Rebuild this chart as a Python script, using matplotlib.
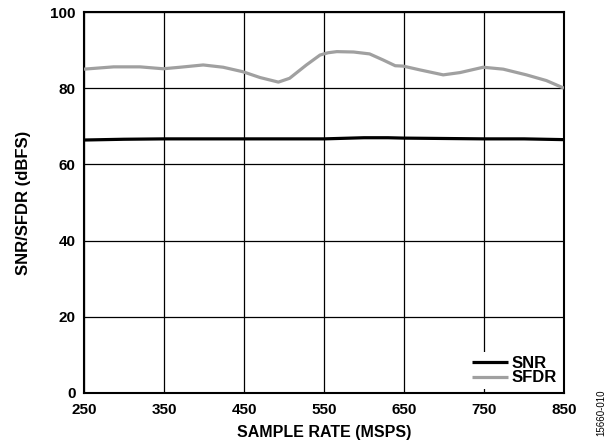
import matplotlib
matplotlib.use("Agg")
import matplotlib.pyplot as plt

plt.rcParams['font.family'] = ['Liberation Sans', 'DejaVu Sans']

snr_x = [250, 300, 350, 400, 450, 500, 550, 600, 630, 650, 700, 750, 800, 850]
snr_y = [66.4, 66.6, 66.7, 66.7, 66.7, 66.7, 66.7, 67.0, 67.0, 66.9, 66.8, 66.7, 66.7, 66.5]

sfdr_x = [250, 287, 320, 349, 370, 399, 424, 449, 470, 493, 507, 528, 545, 555,
          566, 587, 607, 624, 639, 649, 670, 699, 720, 749, 774, 803, 828, 850]
sfdr_y = [85.0, 85.6, 85.6, 85.1, 85.5, 86.1, 85.5, 84.3, 82.8, 81.6, 82.6, 86.1, 88.7, 89.3,
          89.6, 89.5, 89.0, 87.4, 85.9, 85.8, 84.8, 83.5, 84.1, 85.5, 85.0, 83.5, 82.0, 80.0]

xticks = [250, 350, 450, 550, 650, 750, 850]
yticks = [0, 20, 40, 60, 80, 100]

fig = plt.figure(figsize=(6.16, 4.44), dpi=100)
ax = fig.add_axes([84/616, 1-393/444, (564-84)/616, (393-12)/444])

ax.plot(snr_x, snr_y, color='black', lw=2.3, label='SNR', zorder=3,
        solid_joinstyle='round', solid_capstyle='butt')
ax.plot(sfdr_x, sfdr_y, color='#a0a0a0', lw=2.3, label='SFDR', zorder=3,
        solid_joinstyle='round', solid_capstyle='butt')

ax.set_xlim(250, 850)
ax.set_ylim(0, 100)
ax.set_xticks(xticks)
ax.set_yticks(yticks)
ax.grid(True, color='black', lw=0.9)
ax.tick_params(axis='x', length=0, labelsize=11, pad=7)
ax.tick_params(axis='y', length=0, labelsize=11, pad=6)
for lab in ax.get_xticklabels() + ax.get_yticklabels():
    lab.set_fontweight('bold')
for s in ax.spines.values():
    s.set_linewidth(1.5)

ax.set_xlabel('SAMPLE RATE (MSPS)', fontsize=11.5, fontweight='bold', labelpad=6)
ax.set_ylabel('SNR/SFDR (dBFS)', fontsize=12, fontweight='bold', labelpad=14)

leg = ax.legend(loc='lower right', frameon=True, handlelength=2.15,
                borderaxespad=0.25, labelspacing=0.0, handletextpad=0.2,
                borderpad=0.2, prop={'weight': 'bold', 'size': 12})
leg.get_frame().set_edgecolor('none')
leg.get_frame().set_facecolor('white')
leg.get_frame().set_alpha(1)
leg.set_zorder(5)

fig.text(601/616, 1-413/444, '15660-010', rotation=90, fontsize=7, ha='center', va='center')

fig.savefig('out.png', dpi=100)
